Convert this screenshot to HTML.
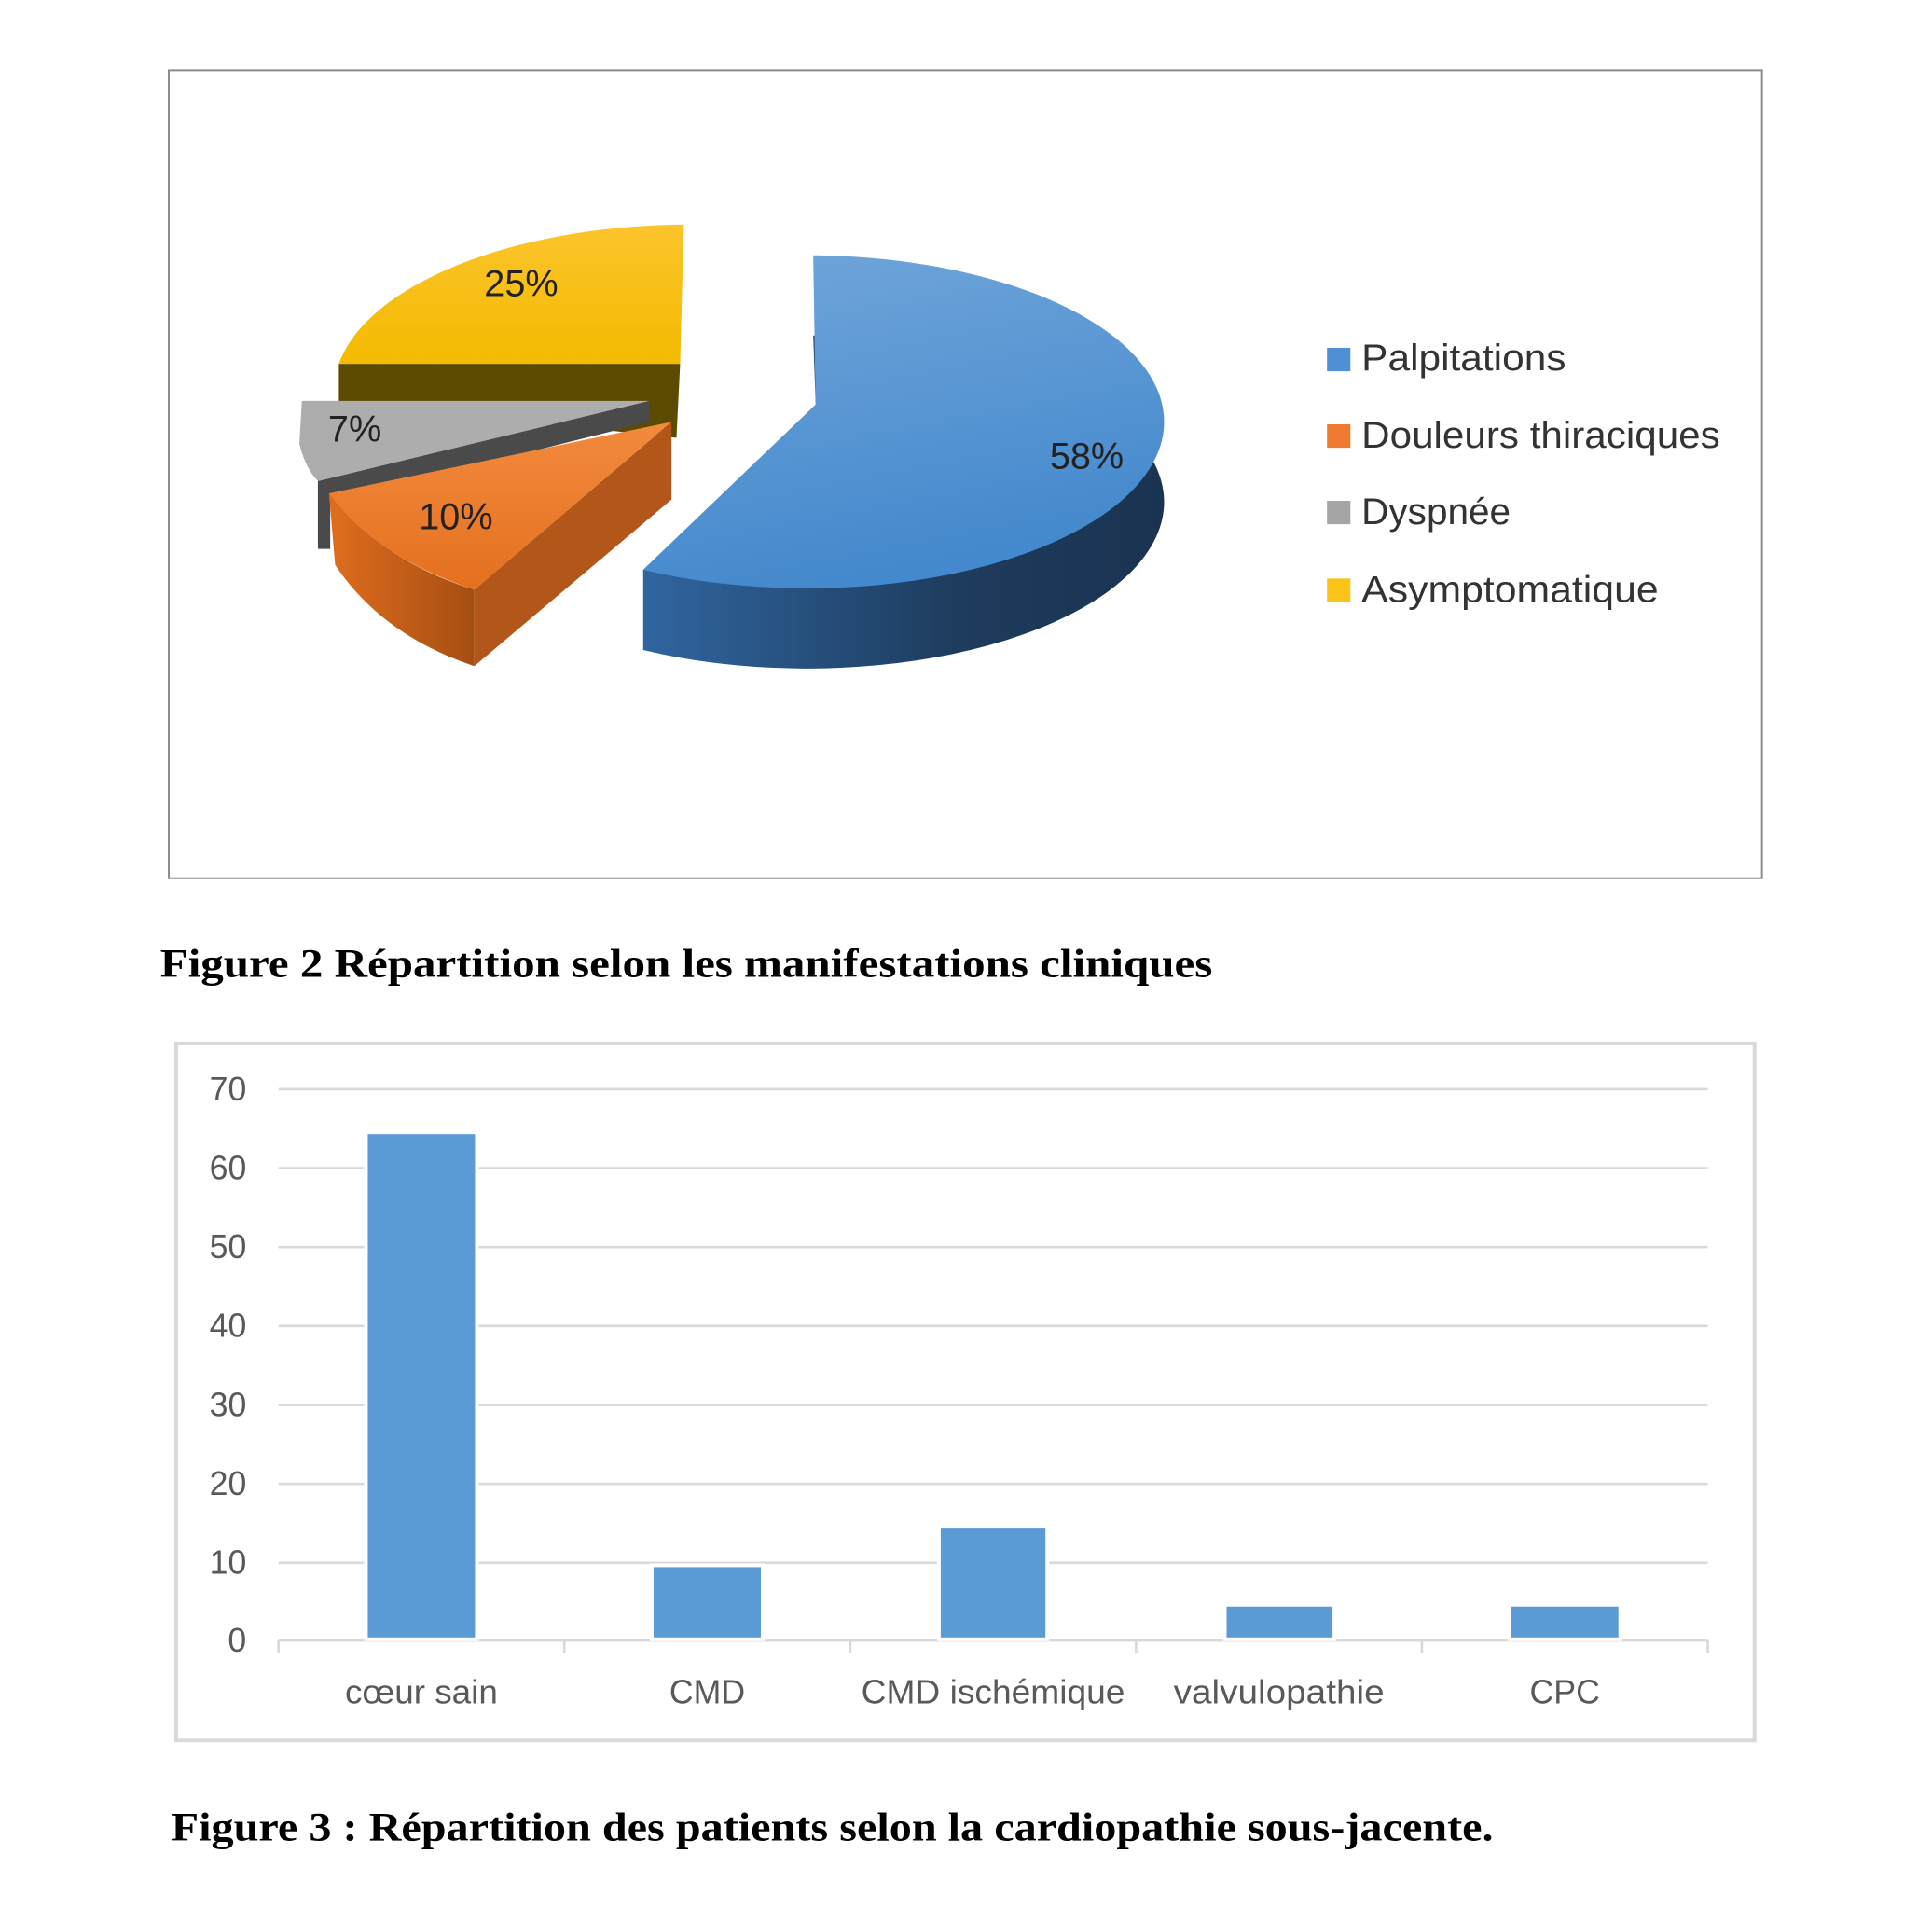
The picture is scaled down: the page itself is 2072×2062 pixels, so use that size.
<!DOCTYPE html>
<html><head><meta charset="utf-8"><style>
html,body{margin:0;padding:0;background:#fff;}
svg{display:block;}
</style></head><body>
<svg width="2072" height="2062" viewBox="0 0 1568 1559" preserveAspectRatio="none" xmlns="http://www.w3.org/2000/svg">
<defs>
<linearGradient id="bt" x1="0" y1="0" x2="0.3" y2="1"><stop offset="0" stop-color="#72a6da"/><stop offset="1" stop-color="#4489cd"/></linearGradient>
<linearGradient id="bs" x1="0" y1="0" x2="1" y2="0"><stop offset="0" stop-color="#30659f"/><stop offset="0.6" stop-color="#1e3c5e"/><stop offset="1" stop-color="#1a3350"/></linearGradient>
<linearGradient id="ot" x1="0" y1="0" x2="0" y2="1"><stop offset="0" stop-color="#f28a3e"/><stop offset="1" stop-color="#e5701f"/></linearGradient>
<linearGradient id="os" x1="0" y1="0" x2="1" y2="0"><stop offset="0" stop-color="#e06d1e"/><stop offset="1" stop-color="#a54e12"/></linearGradient>
<linearGradient id="yt" x1="0" y1="0" x2="0" y2="1"><stop offset="0" stop-color="#fcc42c"/><stop offset="1" stop-color="#f3bb00"/></linearGradient>
</defs>
<rect x="137" y="57" width="1293" height="655" fill="#fff" stroke="#8a8a8a" stroke-width="1.5"/>
<!-- blue -->
<path d="M522,462 L662,328 L660,272 A290,135 0 1 1 522,527 Z" fill="url(#bs)"/>
<path d="M662,328 L660,207 A290,135 0 1 1 522,462 Z" fill="url(#bt)"/>
<!-- yellow -->
<path d="M275,295 L552,295 L549,355 L275,325 Z" fill="#5c4a00"/>
<path d="M552,295 L555,182 A290,135 0 0 0 275,295 Z" fill="url(#yt)"/>
<!-- gray -->
<path d="M258,390 L527,325 L527,342 L268,407 L268,445 L258,445 Z" fill="#4a4a4a"/>
<path d="M527,325 L245,325 L243,360 Q248,380 258,390 Z" fill="#adadad"/>
<!-- orange -->
<path d="M545,342 L545,405 L385,540 L385,478 Z" fill="#b2561a"/>
<path d="M267,400 L272,458 Q310,515 385,540 L385,478 Q310,455 267,400 Z" fill="url(#os)"/>
<path d="M545,342 L385,478 Q305,452 267,400 Z" fill="url(#ot)"/>
<g font-family="Liberation Sans, sans-serif" font-size="30" fill="#222" text-anchor="middle">
<text x="423" y="240">25%</text><text x="288" y="358">7%</text><text x="370" y="429">10%</text><text x="882" y="380">58%</text>
</g>
<g font-family="Liberation Sans, sans-serif" font-size="30" fill="#333">
<rect x="1077" y="282" width="19" height="19" fill="#4f8fd3"/><text x="1105" y="300" textLength="166" lengthAdjust="spacingAndGlyphs">Palpitations</text>
<rect x="1077" y="344" width="19" height="19" fill="#ed7a2e"/><text x="1105" y="363" textLength="291" lengthAdjust="spacingAndGlyphs">Douleurs thiraciques</text>
<rect x="1077" y="406" width="19" height="19" fill="#a5a5a5"/><text x="1105" y="425" textLength="121" lengthAdjust="spacingAndGlyphs">Dyspnée</text>
<rect x="1077" y="469" width="19" height="19" fill="#fcc419"/><text x="1105" y="488" textLength="241" lengthAdjust="spacingAndGlyphs">Asymptomatique</text>
</g>
<text x="130" y="792" font-family="Liberation Serif, serif" font-weight="bold" font-size="33" fill="#000" textLength="854" lengthAdjust="spacingAndGlyphs">Figure 2 Répartition selon les manifestations cliniques</text>
<!-- bar chart -->
<rect x="143" y="846" width="1281" height="565" fill="#fff" stroke="#d9d9d9" stroke-width="3"/>
<g stroke="#d9d9d9" stroke-width="2">
<line x1="226" y1="883" x2="1386" y2="883"/><line x1="226" y1="947" x2="1386" y2="947"/><line x1="226" y1="1011" x2="1386" y2="1011"/><line x1="226" y1="1075" x2="1386" y2="1075"/><line x1="226" y1="1139" x2="1386" y2="1139"/><line x1="226" y1="1203" x2="1386" y2="1203"/><line x1="226" y1="1267" x2="1386" y2="1267"/>
<line x1="226" y1="1330" x2="1386" y2="1330"/>
<line x1="226" y1="1330" x2="226" y2="1340"/><line x1="458" y1="1330" x2="458" y2="1340"/><line x1="690" y1="1330" x2="690" y2="1340"/><line x1="922" y1="1330" x2="922" y2="1340"/><line x1="1154" y1="1330" x2="1154" y2="1340"/><line x1="1386" y1="1330" x2="1386" y2="1340"/>
</g>
<g fill="#5b9bd5" stroke="#fff" stroke-width="3">
<rect x="297" y="918" width="90" height="411"/><rect x="529" y="1269" width="90" height="60"/><rect x="762" y="1237" width="88" height="92"/><rect x="994" y="1301" width="89" height="28"/><rect x="1225" y="1301" width="90" height="28"/>
</g>
<g font-family="Liberation Sans, sans-serif" font-size="27" fill="#595959" text-anchor="end">
<text x="200" y="892">70</text><text x="200" y="956">60</text><text x="200" y="1020">50</text><text x="200" y="1084">40</text><text x="200" y="1148">30</text><text x="200" y="1212">20</text><text x="200" y="1276">10</text><text x="200" y="1339">0</text>
</g>
<g font-family="Liberation Sans, sans-serif" font-size="27" fill="#595959" text-anchor="middle">
<text x="342" y="1381" textLength="124" lengthAdjust="spacingAndGlyphs">cœur sain</text><text x="574" y="1381">CMD</text><text x="806" y="1381" textLength="214" lengthAdjust="spacingAndGlyphs">CMD ischémique</text><text x="1038" y="1381" textLength="171" lengthAdjust="spacingAndGlyphs">valvulopathie</text><text x="1270" y="1381">CPC</text>
</g>
<text x="139" y="1492" font-family="Liberation Serif, serif" font-weight="bold" font-size="33" fill="#000" textLength="1073" lengthAdjust="spacingAndGlyphs">Figure 3 : Répartition des patients selon la cardiopathie sous-jacente.</text>
</svg>
</body></html>
